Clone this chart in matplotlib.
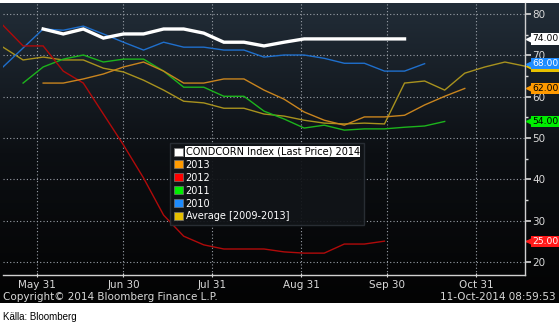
import numpy as np
import pandas as pd
import matplotlib
matplotlib.use("Agg")
import matplotlib.pyplot as plt
import matplotlib.dates as mdates
import matplotlib.ticker as mticker
import matplotlib.transforms as mtransforms
from matplotlib.patches import Patch
from matplotlib.colors import LinearSegmentedColormap

# weekly points, each season aligned on the 2014 calendar
dates = pd.date_range("2014-05-19", periods=27, freq="7D")

s2014 = [76.4, 75.2, 76.4, 74.2, 75.2, 75.2, 76.4, 76.4, 75.4, 73.2, 73.2,
         72.3, 73.2, 74.0, 74.0, 74.0, 74.0, 74.0, 74.0]
s2013 = [63.3, 63.3, 64.3, 65.5, 67.2, 68.4, 66.2, 63.3, 63.3, 64.3, 64.3,
         61.6, 59.4, 56.3, 54.3, 53.1, 55.1, 55.1, 55.5, 58.0, 60.1, 62.0]
s2012 = [77.3, 72.3, 72.3, 66.2, 63.3, 55.8, 48.3, 40.3, 31.3, 26.2, 24.1,
         23.1, 23.1, 23.1, 22.4, 22.1, 22.1, 24.3, 24.3, 25.0]
s2011 = [63.3, 67.2, 69.1, 70.1, 68.4, 69.1, 69.1, 66.2, 62.3, 62.3, 60.1,
         60.1, 56.5, 54.6, 52.4, 53.1, 51.9, 52.2, 52.2, 52.6, 52.9, 54.0]
s2010 = [67.2, 71.8, 76.4, 76.1, 77.1, 75.2, 73.2, 71.3, 73.2, 72.0, 72.0,
         71.3, 71.3, 69.6, 70.1, 70.1, 69.3, 68.1, 68.1, 66.2, 66.2, 68.0]
savg = [72.0, 68.9, 69.6, 68.9, 68.9, 66.9, 66.0, 64.0, 61.6, 58.9, 58.5,
        57.2, 57.2, 55.8, 55.3, 54.3, 53.6, 53.4, 53.6, 53.4, 63.3, 63.8,
        61.6, 65.7, 67.2, 68.4, 67.4]

labels = ["CONDCORN Index (Last Price) 2014", "2013", "2012", "2011", "2010",
          "Average [2009-2013]"]
tick_dates = ["2014-05-31", "2014-06-30", "2014-07-31", "2014-08-31",
              "2014-09-30", "2014-10-31"]

# (values, first week index, line colour, line width, legend colour, tag colour, tag text colour)
series = [
    (savg, 0, "#a8921e", 1.0, "#e6c000", "#e6c000", "black"),
    (s2010, 0, "#1f6fcc", 1.0, "#1e8cff", "#1e8cff", "white"),
    (s2011, 1, "#1cb41c", 1.0, "#00ee00", "#00ee00", "black"),
    (s2012, 0, "#b00a0a", 1.0, "#ff0000", "#ff1a1a", "white"),
    (s2013, 2, "#c8841e", 1.0, "#ff9a00", "#ff9a00", "black"),
    (s2014, 2, "#ffffff", 2.4, "#ffffff", "#ffffff", "black"),
]

fig = plt.figure(figsize=(5.6, 3.28), dpi=100)
fig.patch.set_facecolor("white")

# dark gradient panel
bg = fig.add_axes([0, 25 / 328, 559 / 560, 300 / 328], zorder=0)
cmap = LinearSegmentedColormap.from_list("bb", ["#222d38", "#0c0f13", "#030303"])
bg.imshow(np.linspace(0, 1, 256).reshape(-1, 1), aspect="auto", cmap=cmap,
          extent=(0, 1, 0, 1), origin="upper")
bg.set_axis_off()

ax = fig.add_axes([3 / 560, 53 / 328, 522 / 560, 272 / 328], zorder=1)
ax.set_facecolor("none")

for vals, start, col, lw, _, _, _ in series:
    ax.plot(dates[start:start + len(vals)], vals, color=col, lw=lw,
            solid_joinstyle="miter", zorder=3 if lw > 2 else 2)

ax.set_xlim(pd.Timestamp("2014-05-19"), pd.Timestamp("2014-11-17"))
ax.set_ylim(16.8, 82.7)

ax.xaxis.set_major_locator(mticker.FixedLocator(mdates.date2num(pd.to_datetime(tick_dates))))
ax.xaxis.set_major_formatter(mdates.DateFormatter("%b %d"))
ax.yaxis.tick_right()
ax.set_yticks(np.arange(20, 81, 10))
ax.set_yticks(np.arange(25, 81, 10), minor=True)

for sp in ["left", "top"]:
    ax.spines[sp].set_visible(False)
for sp in ["right", "bottom"]:
    ax.spines[sp].set_color("#d0d0d0")
    ax.spines[sp].set_linewidth(1.0)

ax.tick_params(axis="y", which="major", colors="#d8d8d8", labelsize=7.5,
               length=4, width=1.2, pad=1)
ax.tick_params(axis="y", which="minor", colors="#d8d8d8", length=2, width=1)
ax.tick_params(axis="x", colors="#d8d8d8", labelsize=7.5, length=3,
               direction="inout", pad=2)
ax.grid(True, which="major", color="#9aa0a8", linestyle=(0, (1, 2)), lw=0.8)

# last value tags on the right
for vals, start, _, _, _, tcol, fcol in series:
    v = vals[-1]
    base = mtransforms.blended_transform_factory(ax.transAxes, ax.transData)
    tri = mtransforms.offset_copy(base, fig=fig, x=5, y=0, units="dots")
    ax.plot([1], [v], marker="<", ms=6, color=tcol, transform=tri,
            clip_on=False, zorder=5)
    txt = mtransforms.offset_copy(base, fig=fig, x=7, y=0, units="dots")
    ax.text(1, v, f"{v:.2f}", transform=txt, ha="left", va="center",
            fontsize=6.6, color=fcol, clip_on=False, zorder=6,
            bbox=dict(boxstyle="square,pad=0.12", fc=tcol, ec="none"))

# legend
order = [5, 4, 3, 2, 1, 0]
handles = [Patch(facecolor=series[i][4], edgecolor="#777777", lw=0.5) for i in order]
leg = ax.legend(handles, labels, loc="upper left",
                bbox_to_anchor=(170 / 560, 1 - 143 / 328),
                bbox_transform=fig.transFigure, borderaxespad=0,
                fontsize=7, labelspacing=0.3, handlelength=0.9,
                handleheight=0.9, handletextpad=0.3, borderpad=0.4,
                fancybox=False, framealpha=0.92, facecolor="#111418",
                edgecolor="#2b3037")
for i, t in enumerate(leg.get_texts()):
    t.set_color("white")
    if i == 0:
        t.set_color("black")
        t.set_bbox(dict(boxstyle="square,pad=0.05", fc="white", ec="none"))
leg.set_zorder(4)

fig.text(3 / 560, 1 - 297 / 328, "Copyright\u00a9 2014 Bloomberg Finance L.P.",
         color="#d8d8d8", fontsize=7.5, ha="left", va="center")
fig.text(556 / 560, 1 - 297 / 328, "11-Oct-2014 08:59:53",
         color="#d8d8d8", fontsize=7.5, ha="right", va="center")
fig.text(3 / 560, 1 - 317 / 328, "K\u00e4lla: Bloomberg", color="black",
         fontsize=7, family="Liberation Sans", ha="left", va="center")

fig.savefig("out.png", dpi=100)
